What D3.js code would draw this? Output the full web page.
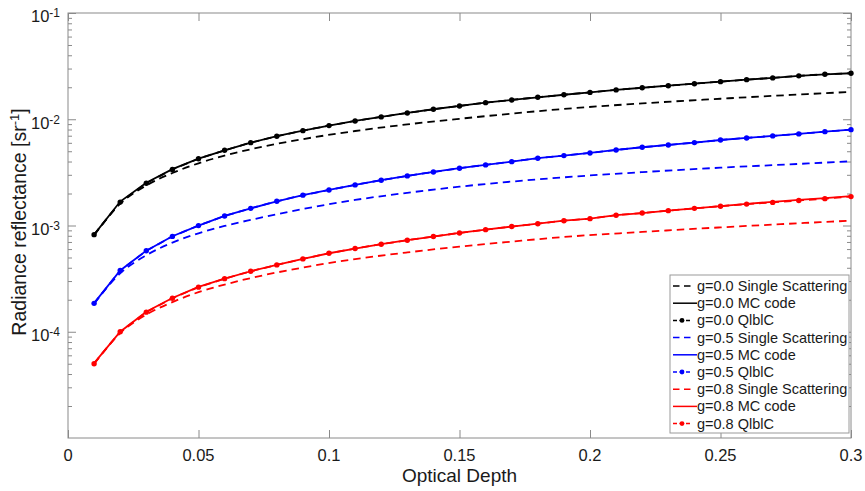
<!DOCTYPE html>
<html>
<head>
<meta charset="utf-8">
<script src="https://cdn.jsdelivr.net/npm/d3@7"></script>
<style>
  body { margin: 0; background: #fff; }
  text { font-family: Helvetica, Arial, "Liberation Sans", sans-serif; fill: #1a1a1a; }
</style>
</head>
<body>
<svg id="grafico" width="865" height="491"></svg>
<script>
// optical depth grids
const tau = [0.01,0.02,0.03,0.04,0.05,0.06,0.07,0.08,0.09,0.10,0.11,0.12,0.13,0.14,0.15,
             0.16,0.17,0.18,0.19,0.20,0.21,0.22,0.23,0.24,0.25,0.26,0.27,0.28,0.29,0.30];
const tauSS = [0.01,0.02,0.03,0.04,0.05,0.06,0.07,0.09,0.11,0.13,0.15,0.17,0.19,0.22,0.25,0.28,0.30];

// single scattering
const ss00 = [8.1e-4,1.6e-3,2.38e-3,3.12e-3,3.85e-3,4.55e-3,5.22e-3,6.5e-3,7.75e-3,8.95e-3,1.01e-2,1.13e-2,1.25e-2,1.41e-2,1.56e-2,1.71e-2,1.81e-2];
const ss05 = [1.84e-4,3.55e-4,5.25e-4,6.9e-4,8.45e-4,9.9e-4,1.13e-3,1.43e-3,1.74e-3,2.03e-3,2.32e-3,2.59e-3,2.84e-3,3.18e-3,3.5e-3,3.8e-3,4.02e-3];
const ss08 = [5.0e-5,9.7e-5,1.45e-4,1.9e-4,2.36e-4,2.78e-4,3.2e-4,4.02e-4,4.83e-4,5.58e-4,6.33e-4,7.05e-4,7.8e-4,8.7e-4,9.6e-4,1.05e-3,1.11e-3];

// MC code
const mc00 = [8.2e-4,1.68e-3,2.53e-3,3.39e-3,4.26e-3,5.1e-3,6.02e-3,6.92e-3,7.81e-3,8.71e-3,9.64e-3,1.052e-2,1.146e-2,1.242e-2,1.334e-2,
              1.433e-2,1.52e-2,1.61e-2,1.7e-2,1.79e-2,1.89e-2,1.98e-2,2.07e-2,2.16e-2,2.26e-2,2.36e-2,2.45e-2,2.56e-2,2.65e-2,2.71e-2];
const mc05 = [1.86e-4,3.77e-4,5.8e-4,7.93e-4,9.98e-4,1.23e-3,1.45e-3,1.69e-3,1.93e-3,2.16e-3,2.41e-3,2.67e-3,2.93e-3,3.19e-3,3.46e-3,
              3.72e-3,3.99e-3,4.3e-3,4.55e-3,4.82e-3,5.14e-3,5.45e-3,5.73e-3,6.03e-3,6.38e-3,6.67e-3,6.97e-3,7.28e-3,7.64e-3,7.98e-3];
const mc08 = [5.07e-5,1.0e-4,1.54e-4,2.08e-4,2.64e-4,3.16e-4,3.71e-4,4.26e-4,4.85e-4,5.48e-4,6.07e-4,6.67e-4,7.27e-4,7.87e-4,8.51e-4,
              9.14e-4,9.77e-4,1.04e-3,1.11e-3,1.16e-3,1.25e-3,1.31e-3,1.38e-3,1.45e-3,1.52e-3,1.6e-3,1.67e-3,1.74e-3,1.81e-3,1.89e-3];

// QlblC
const ql00 = [8.2e-4,1.66e-3,2.5e-3,3.37e-3,4.25e-3,5.1e-3,6.02e-3,6.92e-3,7.81e-3,8.71e-3,9.64e-3,1.052e-2,1.146e-2,1.242e-2,1.334e-2,
              1.433e-2,1.52e-2,1.61e-2,1.7e-2,1.79e-2,1.89e-2,1.98e-2,2.07e-2,2.16e-2,2.26e-2,2.36e-2,2.45e-2,2.56e-2,2.65e-2,2.71e-2];
const ql05 = [1.85e-4,3.77e-4,5.78e-4,7.9e-4,9.98e-4,1.23e-3,1.45e-3,1.69e-3,1.93e-3,2.16e-3,2.41e-3,2.67e-3,2.93e-3,3.19e-3,3.46e-3,
              3.72e-3,3.99e-3,4.3e-3,4.55e-3,4.82e-3,5.14e-3,5.45e-3,5.73e-3,6.03e-3,6.38e-3,6.67e-3,6.97e-3,7.28e-3,7.64e-3,7.98e-3];
const ql08 = [5.0e-5,1.0e-4,1.53e-4,2.07e-4,2.63e-4,3.16e-4,3.71e-4,4.26e-4,4.85e-4,5.48e-4,6.07e-4,6.67e-4,7.27e-4,7.87e-4,8.51e-4,
              9.14e-4,9.77e-4,1.04e-3,1.11e-3,1.16e-3,1.25e-3,1.31e-3,1.38e-3,1.45e-3,1.52e-3,1.59e-3,1.65e-3,1.72e-3,1.79e-3,1.87e-3];

const xTicks = [0,0.05,0.1,0.15,0.2,0.25,0.3];
const xTickLabels = ["0","0.05","0.1","0.15","0.2","0.25","0.3"];
const yMajor = [1e-4,1e-3,1e-2,1e-1];
const yExp = ["-4","-3","-2","-1"];
const legendLabels = ["g=0.0 Single Scattering","g=0.0 MC code","g=0.0 QlblC",
                      "g=0.5 Single Scattering","g=0.5 MC code","g=0.5 QlblC",
                      "g=0.8 Single Scattering","g=0.8 MC code","g=0.8 QlblC"];

const series = [
  {x: tauSS, y: ss00, color: "#000", kind: "ss"},
  {x: tau,   y: mc00, color: "#000", kind: "mc"},
  {x: tau,   y: ql00, color: "#000", kind: "ql"},
  {x: tauSS, y: ss05, color: "#0000ff", kind: "ss"},
  {x: tau,   y: mc05, color: "#0000ff", kind: "mc"},
  {x: tau,   y: ql05, color: "#0000ff", kind: "ql"},
  {x: tauSS, y: ss08, color: "#ff0000", kind: "ss"},
  {x: tau,   y: mc08, color: "#ff0000", kind: "mc"},
  {x: tau,   y: ql08, color: "#ff0000", kind: "ql"}
];

const svg = d3.select("#grafico");
const mLeft = 68, mRight = 851, mTop = 13, mBottom = 438;
const x = d3.scaleLinear().domain([0, 0.3]).range([mLeft, mRight]);
const y = d3.scaleLog().domain([1e-5, 1e-1]).range([mBottom, mTop]);
const axisColor = "#8a8a8a";

// ticks (inward, all four sides)
const minor = y.ticks().filter(v => Math.abs(Math.log10(v) - Math.round(Math.log10(v))) > 1e-9);
function styleAxis(g) {
  g.select(".domain").remove();
  g.selectAll("line").attr("stroke", axisColor);
  g.selectAll("text").remove();
}
svg.append("g").attr("transform", `translate(0,${mBottom})`)
  .call(d3.axisBottom(x).tickValues(xTicks).tickSize(-8)).call(styleAxis);
svg.append("g").attr("transform", `translate(0,${mTop})`)
  .call(d3.axisTop(x).tickValues(xTicks).tickSize(-8)).call(styleAxis);
svg.append("g").attr("transform", `translate(${mLeft},0)`)
  .call(d3.axisLeft(y).tickValues(yMajor).tickSize(-8)).call(styleAxis);
svg.append("g").attr("transform", `translate(${mLeft},0)`)
  .call(d3.axisLeft(y).tickValues(minor).tickSize(-4)).call(styleAxis);
svg.append("g").attr("transform", `translate(${mRight},0)`)
  .call(d3.axisRight(y).tickValues(yMajor).tickSize(-8)).call(styleAxis);
svg.append("g").attr("transform", `translate(${mRight},0)`)
  .call(d3.axisRight(y).tickValues(minor).tickSize(-4)).call(styleAxis);

svg.append("rect")
  .attr("x", mLeft).attr("y", mTop)
  .attr("width", mRight - mLeft).attr("height", mBottom - mTop)
  .attr("fill", "none").attr("stroke", axisColor).attr("stroke-width", 1);

// tick labels
svg.selectAll(".xlab").data(xTicks).enter().append("text")
  .attr("x", d => x(d)).attr("y", 461)
  .attr("text-anchor", "middle").style("font-size", "16.5px")
  .text((d, i) => xTickLabels[i]);

yMajor.forEach((v, i) => {
  const t = svg.append("text")
    .attr("x", mLeft - 37).attr("y", y(v) + 9.3)
    .style("font-size", "16.5px");
  t.append("tspan").text("10");
  t.append("tspan").attr("dy", -5).style("font-size", "12px").text(yExp[i]);
});

// axis titles
svg.append("text")
  .attr("x", (mLeft + mRight) / 2).attr("y", 482)
  .attr("text-anchor", "middle").style("font-size", "19px")
  .text("Optical Depth");

const yt = svg.append("text")
  .attr("transform", `translate(25.5,222) rotate(-90)`)
  .attr("text-anchor", "middle").style("font-size", "19.5px");
yt.append("tspan").text("Radiance reflectance [sr");
yt.append("tspan").attr("dy", -7).style("font-size", "13px").text("-1");
yt.append("tspan").attr("dy", 7).text("]");

// curves
const plot = svg.append("g");
series.forEach(s => {
  const pts = s.x.map((t, i) => [t, s.y[i]]);
  const line = d3.line()
    .x(d => x(d[0])).y(d => y(d[1]))
    .curve(s.kind === "ss" ? d3.curveMonotoneX : d3.curveLinear);
  plot.append("path")
    .datum(pts)
    .attr("d", line)
    .attr("fill", "none")
    .attr("stroke", s.color)
    .attr("stroke-width", 1.8)
    .attr("stroke-dasharray", s.kind === "mc" ? null : "7.5,5");
  if (s.kind === "ql") {
    plot.selectAll(null).data(pts).enter().append("circle")
      .attr("cx", d => x(d[0])).attr("cy", d => y(d[1]))
      .attr("r", 2.7).attr("fill", s.color);
  }
});

// legend
const lx = 670, ly = 275, lw = 179, lh = 158, rowH = 17.2;
const legend = svg.append("g");
legend.append("rect")
  .attr("x", lx).attr("y", ly).attr("width", lw).attr("height", lh)
  .attr("fill", "#fff").attr("stroke", "#9a9a9a").attr("stroke-width", 1);
series.forEach((s, i) => {
  const cy = ly + 11 + i * rowH;
  if (s.kind === "ss") {
    legend.append("line").attr("x1", lx + 3).attr("x2", lx + 21).attr("y1", cy).attr("y2", cy)
      .attr("stroke", s.color).attr("stroke-width", 1.5).attr("stroke-dasharray", "6.5,4.5");
  } else if (s.kind === "mc") {
    legend.append("line").attr("x1", lx + 3).attr("x2", lx + 27).attr("y1", cy).attr("y2", cy)
      .attr("stroke", s.color).attr("stroke-width", 1.5);
  } else {
    legend.append("line").attr("x1", lx + 3).attr("x2", lx + 20).attr("y1", cy).attr("y2", cy)
      .attr("stroke", s.color).attr("stroke-width", 1.5).attr("stroke-dasharray", "4,2.5");
    legend.append("circle").attr("cx", lx + 12).attr("cy", cy).attr("r", 2.4).attr("fill", s.color);
  }
  legend.append("text")
    .attr("x", lx + 27).attr("y", cy + 5)
    .style("font-size", "14.5px")
    .text(legendLabels[i]);
});
</script>
</body>
</html>
